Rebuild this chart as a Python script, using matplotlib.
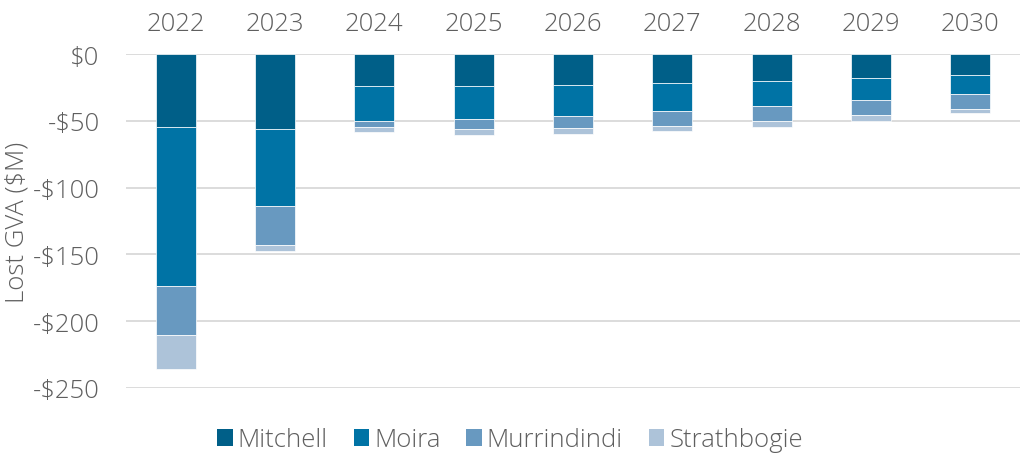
import numpy as np
import matplotlib
matplotlib.use('Agg')
import matplotlib.pyplot as plt
from matplotlib.patches import Patch

# Data (lost GVA, $M, as negative stacked segments)
years = ['2022', '2023', '2024', '2025', '2026', '2027', '2028', '2029', '2030']
mitchell = [55.0, 56.5, 24.25, 24.0, 23.25, 21.75, 20.5, 18.25, 15.75]
moira = [119.0, 57.5, 26.25, 24.75, 23.25, 21.25, 18.75, 16.25, 14.25]
murrindindi = [36.5, 29.25, 4.25, 7.25, 8.75, 11.0, 11.0, 11.5, 11.25]
strathbogie = [25.5, 4.25, 4.0, 4.5, 4.75, 4.0, 4.5, 4.0, 3.25]

series_names = ['Mitchell', 'Moira', 'Murrindindi', 'Strathbogie']
series_vals = [mitchell, moira, murrindindi, strathbogie]
colors = ['#005f88', '#0073a5', '#6899c0', '#adc3d9']

yticks = [0, -50, -100, -150, -200, -250]
ytick_labels = ['$0', '-$50', '-$100', '-$150', '-$200', '-$250']

text_color = '#5f5f5f'
fs = 18.5
plt.rcParams['font.family'] = ['Open Sans', 'DejaVu Sans']

fig = plt.figure(figsize=(10.22, 4.56), dpi=100)
ax = fig.add_axes([126 / 1022, 1 - 389 / 456, (1020 - 126) / 1022, (389 - 55) / 456])

x = np.arange(len(years))
bottom = np.zeros(len(years))
for name, vals, col in zip(series_names, series_vals, colors):
    v = -np.array(vals)
    ax.bar(x, v, bottom=bottom, width=0.4, color=col, edgecolor='#ffffff',
           linewidth=0.5, label=name, zorder=3)
    bottom = bottom + v

ax.set_xlim(-0.5, 8.5)
ax.set_ylim(-250, 0)
ax.set_yticks(yticks)
ax.set_yticklabels(ytick_labels)
ax.set_xticks(x)
ax.set_xticklabels(years)
ax.xaxis.tick_top()

ax.grid(axis='y', color='#d9d9d9', linewidth=1.3, zorder=0)
ax.set_axisbelow(True)
for s in ax.spines.values():
    s.set_visible(False)

ax.tick_params(axis='both', length=0, labelsize=fs, colors=text_color)
ax.tick_params(axis='x', pad=13)
ax.tick_params(axis='y', pad=19)
for lbl in ax.get_xticklabels() + ax.get_yticklabels():
    lbl.set_fontweight('light')

ax.set_ylabel('Lost GVA ($M)', fontsize=fs, color=text_color, fontweight='light')
ax.yaxis.set_label_coords(-0.108, 0.5)

handles = [Patch(facecolor=c, edgecolor='none', label=n) for n, c in zip(series_names, colors)]
leg = fig.legend(handles=handles, loc='center', bbox_to_anchor=(510 / 1022, 1 - 441 / 456), ncol=4,
                 frameon=False, fontsize=fs, handlelength=0.6, handleheight=0.6,
                 handletextpad=0.2, columnspacing=1.0)
for t in leg.get_texts():
    t.set_color(text_color)
    t.set_fontweight('light')

fig.savefig('out.png', dpi=100)
